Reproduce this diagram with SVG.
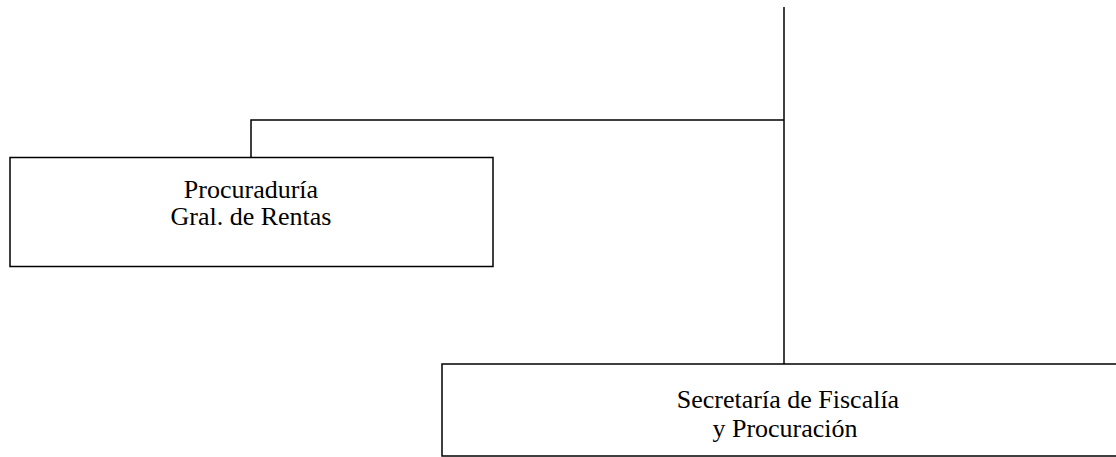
<svg xmlns="http://www.w3.org/2000/svg" width="1116" height="457" viewBox="0 0 1116 457">
<style>
.box{fill:#fff;stroke:#000;stroke-width:1.5}
.lbl{font-family:"Liberation Serif","Times New Roman",serif;font-size:26px;fill:#000;text-anchor:middle}
.conn{fill:none;stroke:#000;stroke-width:1.5}
</style>
<rect width="1116" height="457" fill="#fff"/>
<g id="connectors">
<path class="conn" d="M784 7V364"/>
<path class="conn" d="M784 120H251V157"/>
</g>
<g id="node-procuraduria">
<rect class="box" x="10" y="157.5" width="483" height="109"/>
<text class="lbl" x="251" y="198">Procuraduría</text>
<text class="lbl" x="251" y="225">Gral. de Rentas</text>
</g>
<g id="node-secretaria">
<rect class="box" x="442" y="364" width="690" height="92"/>
<text class="lbl" x="788" y="408">Secretaría de Fiscalía</text>
<text class="lbl" x="785" y="437">y Procuración</text>
</g>
</svg>
